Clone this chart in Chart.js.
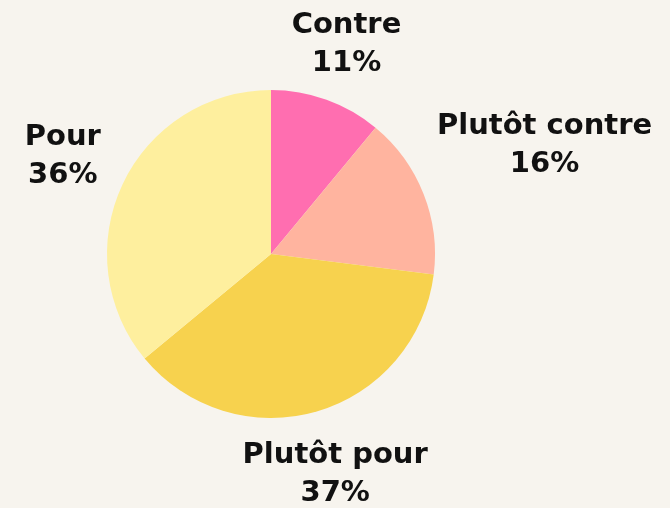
<!DOCTYPE html>
<html>
<head>
<meta charset="utf-8">
<script src="https://cdn.jsdelivr.net/npm/chart.js@4"></script>
<style>
  html, body { margin: 0; padding: 0; background: #f7f4ee; }
  #wrap { width: 670px; height: 508px; position: relative; }
</style>
</head>
<body>
<div id="wrap"><canvas id="pieChart"></canvas></div>
<script>
var categories = ["Contre", "Plutôt contre", "Plutôt pour", "Pour"];
var valeurs = [11, 16, 37, 36];
var couleurs = ["#ff6eb0", "#ffb49f", "#f7d24e", "#feef9e"];

// etiquettes autour du camembert
const etiquettes = {
  id: "etiquettes",
  afterDatasetsDraw(chart) {
    const ctx = chart.ctx;
    const meta = chart.getDatasetMeta(0);
    ctx.save();
    ctx.font = "bold 29px 'DejaVu Sans'";
    ctx.fillStyle = "#111";
    ctx.textAlign = "center";
    ctx.textBaseline = "middle";
    meta.data.forEach(function (arc, i) {
      var ang = (arc.startAngle + arc.endAngle) / 2;
      var l1 = categories[i];
      var l2 = valeurs[i] + "%";
      var hw = ctx.measureText(l1).width / 2 + 12;
      var hh = 30;
      var d = arc.outerRadius + 8 + Math.abs(Math.cos(ang)) * hw + Math.abs(Math.sin(ang)) * hh;
      var x = arc.x + Math.cos(ang) * d;
      var y = arc.y + Math.sin(ang) * d;
      ctx.fillText(l1, x, y - 19);
      ctx.fillText(l2, x, y + 19);
    });
    ctx.restore();
  }
};

new Chart(document.getElementById("pieChart"), {
  type: "pie",
  data: {
    labels: categories,
    datasets: [{
      data: valeurs,
      backgroundColor: couleurs,
      borderWidth: 0
    }]
  },
  options: {
    responsive: true,
    maintainAspectRatio: false,
    animation: false,
    layout: { padding: { left: 107, right: 235, top: 90, bottom: 90 } },
    plugins: {
      legend: { display: false },
      tooltip: { enabled: false }
    }
  },
  plugins: [etiquettes]
});
</script>
</body>
</html>
